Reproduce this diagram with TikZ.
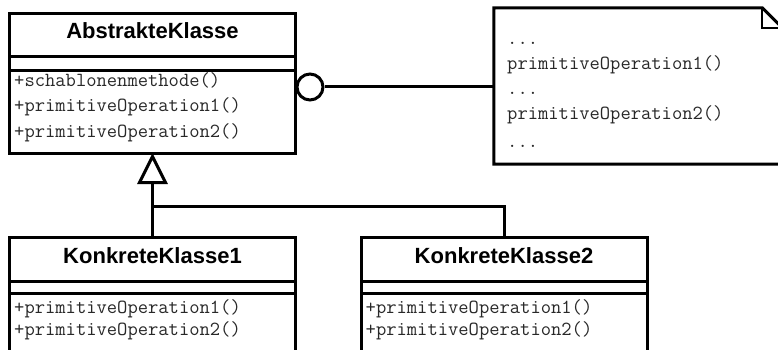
\documentclass[tikz,border=0pt]{standalone}
\usepackage{fontspec}
\usetikzlibrary{arrows.meta}
\newfontfamily\clsfamily{Liberation Sans}
\definecolor{opgray}{RGB}{40,40,40}
\tikzset{
  comp/.style={draw, line width=3pt, minimum width=286pt, inner sep=0pt, outer sep=0pt},
  clstitle/.style={comp, font=\clsfamily\bfseries\fontsize{22}{26}\selectfont,
                   text height=16pt, text depth=9pt},
  op/.style={anchor=base west, inner sep=0pt, text=opgray,
             font=\ttfamily\fontsize{20}{25}\selectfont},
  conn/.style={line width=3pt},
  inherit/.style={conn, -{Triangle[open, length=31pt, width=30pt, line width=3pt]}},
}
\begin{document}
\begin{tikzpicture}[x=1pt, y=-1pt]
  \useasboundingbox (0,0) rectangle (778,350);
  \clip (0,0) rectangle (778,350);
  \fill[white] (0,0) rectangle (778,350);

  % abstract class
  \node[clstitle, minimum height=43pt] (ak) at (152.5,35.5) {AbstrakteKlasse};
  \node[comp, minimum height=14pt, anchor=north] (ak-attr) at (ak.south) {};
  \node[comp, minimum height=82pt, anchor=north] (ak-ops) at (ak-attr.south) {};
  \node[op] (ak-o1) at (14,87)  {+schablonenmethode()};
  \node[op] (ak-o2) at (14,112) {+primitiveOperation1()};
  \node[op] (ak-o3) at (14,137) {+primitiveOperation2()};

  % concrete classes
  \node[clstitle, minimum height=44pt] (k1) at (152.5,259.5) {KonkreteKlasse1};
  \node[comp, minimum height=11.5pt, anchor=north] (k1-attr) at (k1.south) {};
  \node[comp, minimum height=80pt, anchor=north] (k1-ops) at (k1-attr.south) {};
  \node[op] (k1-o1) at (14,313) {+primitiveOperation1()};
  \node[op] (k1-o2) at (14,335) {+primitiveOperation2()};

  \node[clstitle, minimum height=44pt] (k2) at (504,259.5) {KonkreteKlasse2};
  \node[comp, minimum height=11.5pt, anchor=north] (k2-attr) at (k2.south) {};
  \node[comp, minimum height=80pt, anchor=north] (k2-ops) at (k2-attr.south) {};
  \node[op] (k2-o1) at (365.5,313) {+primitiveOperation1()};
  \node[op] (k2-o2) at (365.5,335) {+primitiveOperation2()};

  % note with folded corner
  \node[minimum width=288pt, minimum height=156pt, inner sep=0pt] (note) at (638,86) {};
  \draw[line width=3pt, line join=miter, fill=white]
    (note.north west) -- ([xshift=-20pt]note.north east)
    -- ([yshift=-20pt]note.north east) -- (note.south east)
    -- (note.south west) -- cycle;
  \draw[line width=2.5pt]
    ([xshift=-20pt]note.north east) |- ([yshift=-20pt]note.north east);
  \node[op] (n1) at (507,45)  {...};
  \node[op] (n2) at (507,70)  {primitiveOperation1()};
  \node[op] (n3) at (507,95)  {...};
  \node[op] (n4) at (507,120) {primitiveOperation2()};
  \node[op] (n5) at (507,147) {...};

  % lollipop link to the note
  \node[circle, draw, line width=3pt, minimum size=26pt, inner sep=0pt, fill=white]
    (ball) at (310,87) {};
  \draw[conn] (ball.east) -- (ball.east -| note.west);

  % generalisation
  \coordinate (fork) at (152.5,206);
  \draw[inherit] (k1.north) -- (ak-ops.south);
  \draw[conn] (k2.north) |- (fork);
\end{tikzpicture}
\end{document}
